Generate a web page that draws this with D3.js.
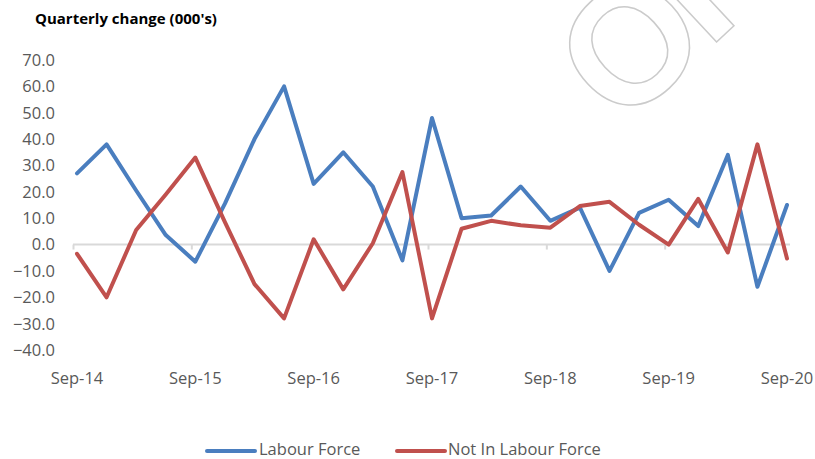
<!DOCTYPE html>
<html><head><meta charset="utf-8">
<script src="https://cdn.jsdelivr.net/npm/d3@7/dist/d3.min.js"></script>
<style>body{margin:0;background:#fff}svg{display:block}</style>
</head><body>
<script>
const quarters = ["Sep-14","Dec-14","Mar-15","Jun-15","Sep-15","Dec-15","Mar-16","Jun-16","Sep-16","Dec-16","Mar-17","Jun-17","Sep-17","Dec-17","Mar-18","Jun-18","Sep-18","Dec-18","Mar-19","Jun-19","Sep-19","Dec-19","Mar-20","Jun-20","Sep-20"];
const labourForce = [27,38,20.5,3.6,-6.5,15.5,40,60,23,35,22,-6,48,10,11,22,9,14,-10,12,17,7,34,-16,15];
const notInLabourForce = [-3.5,-20,5.5,19,33,8.5,-15,-28,2,-17,0.5,27.5,-28,6,9,7.3,6.4,14.6,16.2,7.5,0,17.3,-3,38,-5.3];
const yTicks = [70,60,50,40,30,20,10,0,-10,-20,-30,-40];
const xTickLabels = ["Sep-14","Sep-15","Sep-16","Sep-17","Sep-18","Sep-19","Sep-20"];
const seriesNames = ["Labour Force","Not In Labour Force"];
const colors = ["#4a7ebf","#c0504d"];

const W=815,H=459;
const svg=d3.select("body").append("svg").attr("width",W).attr("height",H);
const font="'Open Sans', sans-serif";

// watermark
const wm=svg.append("g").attr("transform","translate(627,42) rotate(-43)");
wm.append("text").text("OFFICIAL").attr("x",-64).attr("dy","0.37em")
  .attr("font-family","'Liberation Sans', sans-serif").attr("font-weight","bold").attr("font-size",165)
  .attr("letter-spacing",-10)
  .attr("fill","none").attr("stroke","#cbcbcb").attr("stroke-width",1.5);

const x=d3.scalePoint().domain(quarters).range([77,787]);
const y=d3.scaleLinear().domain([-40,70]).range([350,60]);

// title
svg.append("text").text("Quarterly change (000's)").attr("x",35).attr("y",24)
  .attr("font-family",font).attr("font-weight","bold").attr("font-size",15)
  .attr("fill","#000");

// y labels
svg.append("g").selectAll("text").data(yTicks).join("text")
  .attr("x",55).attr("y",d=>y(d)).attr("dy","0.36em").attr("text-anchor","end")
  .attr("font-family",font).attr("font-size",16.5).attr("fill","#595959")
  .text(d=>d3.format(".1f")(d));

// zero axis
const xAxis=d3.axisBottom(x).tickValues(xTickLabels).tickSize(5).tickSizeOuter(0).tickFormat("");
const ax=svg.append("g").attr("transform",`translate(-4,${y(0)})`).call(xAxis);
ax.select(".domain").attr("d",`M${73+4},0H${790+4}`).attr("stroke","#d9d9d9").attr("stroke-width",2);
ax.selectAll(".tick line").attr("stroke","#d9d9d9").attr("stroke-width",2);

// x labels
svg.append("g").selectAll("text").data(xTickLabels).join("text")
  .attr("x",d=>x(d)).attr("y",384).attr("text-anchor","middle")
  .attr("font-family",font).attr("font-size",16.5).attr("fill","#595959").text(d=>d);

// lines
const line=d3.line().x((d,i)=>x(quarters[i])).y(d=>y(d));
[labourForce,notInLabourForce].forEach((s,k)=>{
  svg.append("path").datum(s).attr("d",line).attr("fill","none")
    .attr("stroke",colors[k]).attr("stroke-width",4).attr("stroke-linejoin","round").attr("stroke-linecap","round");
});

// legend
const leg=[{x:207,tx:259},{x:397,tx:448}];
seriesNames.forEach((n,k)=>{
  svg.append("line").attr("x1",leg[k].x).attr("x2",leg[k].x+48).attr("y1",451).attr("y2",451)
    .attr("stroke",colors[k]).attr("stroke-width",4).attr("stroke-linecap","round");
  svg.append("text").attr("x",leg[k].tx).attr("y",455)
    .attr("font-family",font).attr("font-size",16.5).attr("fill","#595959").text(n);
});
</script>
</body></html>
